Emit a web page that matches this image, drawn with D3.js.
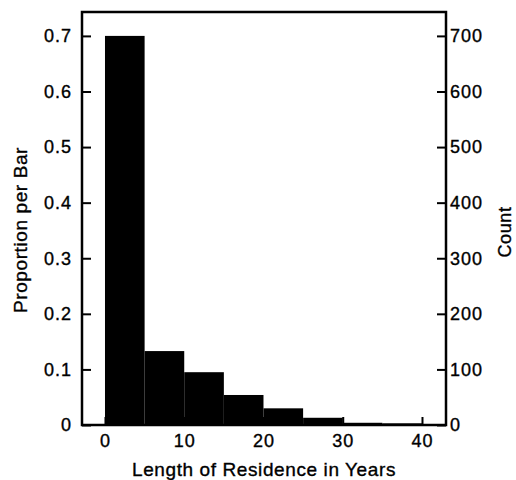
<!DOCTYPE html>
<html><head><meta charset="utf-8">
<script src="https://cdn.jsdelivr.net/npm/d3@7"></script>
<style>
html,body{margin:0;padding:0;background:#fff;}
text{font-family:"Liberation Sans",Arial,Helvetica,sans-serif;fill:#000;stroke:#000;stroke-width:0.35px;}
</style></head>
<body><svg id="c" width="516" height="480"></svg>
<script>
// Data
const binStarts = [0, 5, 10, 15, 20, 25, 30, 35];
const binWidth = 5;
const proportions = [0.700, 0.133, 0.095, 0.054, 0.030, 0.013, 0.004, 0.003];
const totalCount = 1000;
const xTicks = [0, 10, 20, 30, 40];
const propTicks = [0, 0.1, 0.2, 0.3, 0.4, 0.5, 0.6, 0.7];
const countTicks = [0, 100, 200, 300, 400, 500, 600, 700];

const svg = d3.select("#c");
const L = 82, R = 446, T = 12, B = 425;
const x = d3.scaleLinear().domain([-2.9, 43.03]).range([L, R]);
const y = d3.scaleLinear().domain([0, 0.743]).range([B, T]);
const yc = d3.scaleLinear().domain([0, 0.743 * totalCount]).range([B, T]);

// bars
svg.append("g").selectAll("rect").data(binStarts).join("rect")
  .attr("x", (d) => x(d))
  .attr("width", (d) => x(d + binWidth) - x(d))
  .attr("y", (d, i) => y(proportions[i]))
  .attr("height", (d, i) => y(0) - y(proportions[i]))
  .attr("fill", "#000");

const fs = 18;
// left axis (ticks inward)
const la = svg.append("g").attr("transform", `translate(${L},0)`)
  .call(d3.axisRight(y).tickValues(propTicks).tickSize(9).tickFormat(d => d === 0 ? "0" : d3.format(".1f")(d)));
la.select(".domain").remove();
la.selectAll("line").attr("stroke", "#000").attr("stroke-width", 2);
la.selectAll("text").attr("x", -10).attr("text-anchor", "end")
  .style("font-size", fs + "px").style("letter-spacing", "1px");

// right axis (ticks inward)
const ra = svg.append("g").attr("transform", `translate(${R},0)`)
  .call(d3.axisLeft(yc).tickValues(countTicks).tickSize(9).tickFormat(d3.format("d")));
ra.select(".domain").remove();
ra.selectAll("line").attr("stroke", "#000").attr("stroke-width", 2);
ra.selectAll("text").attr("x", 4).attr("text-anchor", "start")
  .style("font-size", fs + "px").style("letter-spacing", "1px");

// bottom axis (ticks inward)
const ba = svg.append("g").attr("transform", `translate(0,${B})`)
  .call(d3.axisTop(x).tickValues(xTicks).tickSize(8).tickFormat(d3.format("d")));
ba.select(".domain").remove();
ba.selectAll("line").attr("stroke", "#000").attr("stroke-width", 2);
ba.selectAll("text").attr("y", 22).attr("dy", 0)
  .style("font-size", fs + "px").style("letter-spacing", "1px");

// frame
svg.append("rect").attr("x", L).attr("y", T).attr("width", R - L).attr("height", B - T)
  .attr("fill", "none").attr("stroke", "#000").attr("stroke-width", 2.5);

// titles
svg.append("text").attr("x", 264).attr("y", 476).attr("text-anchor", "middle")
  .style("font-size", "19px").style("letter-spacing", "0.6px")
  .text("Length of Residence in Years");
svg.append("text").attr("transform", "translate(27,230) rotate(-90)").attr("text-anchor", "middle")
  .style("font-size", "19px").style("letter-spacing", "0.6px")
  .text("Proportion per Bar");
svg.append("text").attr("transform", "translate(511,232) rotate(-90)").attr("text-anchor", "middle")
  .style("font-size", "18px").style("letter-spacing", "0.6px")
  .text("Count");
</script></body></html>
